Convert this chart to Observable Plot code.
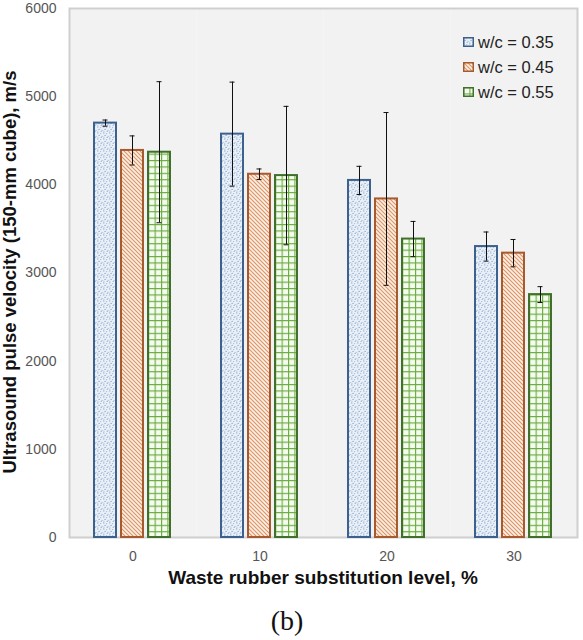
<!DOCTYPE html>
<html>
<head>
<meta charset="utf-8">
<script src="https://cdn.jsdelivr.net/npm/d3@7"></script>
<script src="https://cdn.jsdelivr.net/npm/@observablehq/plot@0.6"></script>
<style>
  body { margin: 0; background: #fff; }
  #wrap { position: relative; width: 583px; height: 640px; overflow: hidden; font-family: "Liberation Sans", Arial, sans-serif; }
  #wrap > svg { position: absolute; left: 0; top: 0; }
  .ytitle { position: absolute; left: 10px; top: 272px; transform: translate(-50%, -50%) rotate(-90deg); white-space: nowrap; font-weight: bold; font-size: 18.5px; line-height: 1; color: #111; }
  .xtitle { position: absolute; left: 323px; top: 577px; transform: translate(-50%, -50%); white-space: nowrap; font-weight: bold; font-size: 19px; line-height: 1; color: #111; }
  .panel { position: absolute; left: 287px; top: 621px; transform: translate(-50%, -50%); font-family: "Liberation Serif", "Times New Roman", serif; font-size: 28px; line-height: 1; color: #111; }
  .legend { position: absolute; left: 463px; top: 30px; }
  .legend .row { position: absolute; left: 0; height: 24px; display: flex; align-items: center; white-space: nowrap; font-size: 16.5px; color: #222; }
  .legend svg { margin-right: 4px; }
</style>
</head>
<body>
<div id="wrap"></div>
<script>
// ---- data ----
const levels = ["0", "10", "20", "30"];               // waste rubber substitution level, %
const series = ["w/c = 0.35", "w/c = 0.45", "w/c = 0.55"];
const wc035 = [4700, 4575, 4050, 3300];                 // mean UPV, m/s
const wc045 = [4390, 4120, 3840, 3225];
const wc055 = [4370, 4105, 3385, 2755];
const err035 = [35, 590, 160, 165];                     // error bar half-lengths
const err045 = [165, 60, 980, 155];
const err055 = [800, 785, 200, 90];
const yTicks = [0, 1000, 2000, 3000, 4000, 5000, 6000];

const seriesValues = [wc035, wc045, wc055];
const seriesErrors = [err035, err045, err055];
const seriesStroke = ["#3c618e", "#a65a2e", "#41702c"];
const patternIds = ["pat-blue", "pat-orange", "pat-green"];

const rows = [];
series.forEach((s, i) => levels.forEach((l, j) => {
  rows.push({level: l, series: s, value: seriesValues[i][j], err: seriesErrors[i][j]});
}));

const marks = [
  Plot.frame({fill: "#f2f2f2"}),
  Plot.frame({facet: "super", stroke: "#cfcfcf", strokeWidth: 2}),
  Plot.axisY({ticks: yTicks, tickSize: 0, tickPadding: 13, label: null, fontSize: 14, fill: "#555", tickFormat: d => String(d)}),
  Plot.axisFx({anchor: "bottom", tickSize: 0, tickPadding: 14, label: null, fontSize: 14, fill: "#555"})
];
series.forEach((s, i) => {
  marks.push(Plot.barY(rows, {
    filter: d => d.series === s,
    fx: "level", x: "series", y: "value",
    fill: `url(#${patternIds[i]})`, stroke: seriesStroke[i], strokeWidth: 2
  }));
});
marks.push(
  Plot.ruleX(rows, {fx: "level", x: "series", y1: d => d.value - d.err, y2: d => d.value + d.err, stroke: "#111", strokeWidth: 1}),
  Plot.tickY(rows, {fx: "level", x: "series", y: d => d.value + d.err, stroke: "#111", strokeWidth: 1, insetLeft: 8.5, insetRight: 8.5}),
  Plot.tickY(rows, {fx: "level", x: "series", y: d => d.value - d.err, stroke: "#111", strokeWidth: 1, insetLeft: 8.5, insetRight: 8.5})
);

const chart = Plot.plot({
  width: 583,
  height: 596,
  marginLeft: 68,
  marginRight: 5,
  marginTop: 8,
  marginBottom: 59,
  style: {fontFamily: '"Liberation Sans", Arial, sans-serif', fontSize: "14px", color: "#555", background: "transparent"},
  fx: {domain: levels, padding: 0, label: null},
  x: {domain: series, paddingInner: 0.18, paddingOuter: 0.86, axis: null},
  y: {domain: [0, 6000], label: null},
  marks
});

// ---- fill patterns ----
const defs = d3.select(chart).insert("defs", ":first-child");
// stipple
const pb = defs.append("pattern").attr("id", patternIds[0]).attr("patternUnits", "userSpaceOnUse").attr("width", 6).attr("height", 6);
pb.append("rect").attr("width", 6).attr("height", 6).attr("fill", "#e9f0f8");
[[0.8, 0.9, "#86a4c8"], [3.6, 1.6, "#a2b9d6"], [2.1, 3.4, "#7f9ec4"], [5.0, 4.3, "#9ab3d3"], [0.9, 5.2, "#b0c4de"], [4.2, 5.6, "#8eaacd"]]
  .forEach(([cx, cy, c]) => pb.append("circle").attr("cx", cx).attr("cy", cy).attr("r", 0.65).attr("fill", c));
// diagonal hatch
const po = defs.append("pattern").attr("id", patternIds[1]).attr("patternUnits", "userSpaceOnUse").attr("width", 4).attr("height", 4);
po.append("rect").attr("width", 4).attr("height", 4).attr("fill", "#fcefe6");
po.append("path").attr("d", "M-1,-1L5,5M-1,3L1,5M3,-1L5,1").attr("stroke", "#db9465").attr("stroke-width", 1.1);
// grid
const pg = defs.append("pattern").attr("id", patternIds[2]).attr("patternUnits", "userSpaceOnUse").attr("width", 6.4).attr("height", 6.4);
pg.append("rect").attr("width", 6.4).attr("height", 6.4).attr("fill", "#f4fbef");
pg.append("path").attr("d", "M0.5,0V6.4M0,0.5H6.4").attr("stroke", "#6aab3e").attr("stroke-width", 1.2);

const wrap = document.getElementById("wrap");
wrap.appendChild(chart);

// ---- titles ----
const yt = document.createElement("div"); yt.className = "ytitle";
yt.textContent = "Ultrasound pulse velocity (150-mm cube), m/s"; wrap.appendChild(yt);
const xt = document.createElement("div"); xt.className = "xtitle";
xt.textContent = "Waste rubber substitution level, %"; wrap.appendChild(xt);
const pn = document.createElement("div"); pn.className = "panel";
pn.textContent = "(b)"; wrap.appendChild(pn);

// ---- legend ----
const lg = document.createElement("div"); lg.className = "legend"; wrap.appendChild(lg);
series.forEach((s, i) => {
  const r = document.createElement("div"); r.className = "row";
  r.style.top = (i * 25) + "px";
  r.innerHTML = `<svg width="11" height="10"><rect x="0.75" y="0.75" width="9.5" height="8.5" fill="url(#${patternIds[i]})" stroke="${seriesStroke[i]}" stroke-width="1.5"/></svg><span>${s}</span>`;
  lg.appendChild(r);
});
</script>
</body>
</html>
